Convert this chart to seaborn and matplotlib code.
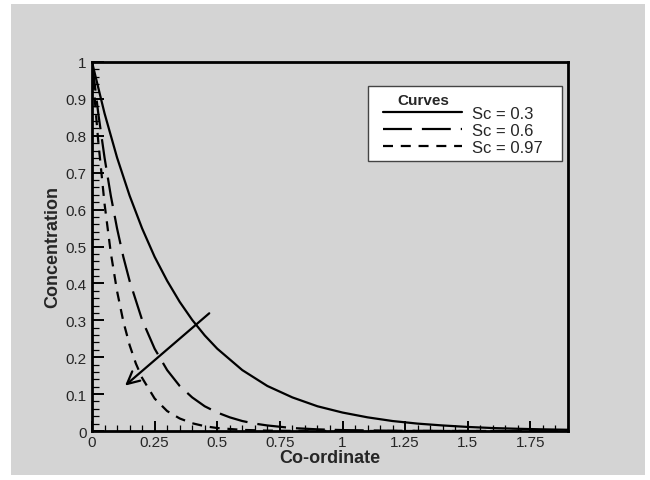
import matplotlib
matplotlib.use("Agg")
import matplotlib.pyplot as plt
import matplotlib.patches as mpatches
from matplotlib.ticker import MultipleLocator
import seaborn as sns
import pandas as pd

# ---- data ----
x_sc03 = [0, 0.05, 0.1, 0.15, 0.2, 0.25, 0.3, 0.35, 0.4, 0.45, 0.5, 0.6, 0.7, 0.8, 0.9,
          1.0, 1.1, 1.2, 1.3, 1.4, 1.5, 1.6, 1.7, 1.8, 1.9]
y_sc03 = [1.0, 0.861, 0.741, 0.638, 0.549, 0.472, 0.407, 0.350, 0.301, 0.259, 0.223, 0.165,
          0.122, 0.091, 0.067, 0.050, 0.037, 0.027, 0.020, 0.015, 0.011, 0.008, 0.006, 0.0045, 0.0033]

x_sc06 = [0, 0.025, 0.05, 0.075, 0.1, 0.125, 0.15, 0.2, 0.25, 0.3, 0.35, 0.4, 0.45, 0.5,
          0.55, 0.6, 0.65, 0.7, 0.8, 0.9, 1.0, 1.2, 1.5, 1.9]
y_sc06 = [1.0, 0.861, 0.741, 0.638, 0.549, 0.472, 0.407, 0.301, 0.223, 0.165, 0.122, 0.091,
          0.067, 0.050, 0.037, 0.027, 0.020, 0.015, 0.008, 0.0045, 0.0025, 0.0007, 0.0001, 0.0]

x_sc097 = [0, 0.0125, 0.025, 0.05, 0.075, 0.1, 0.125, 0.15, 0.175, 0.2, 0.25, 0.3, 0.35,
           0.4, 0.45, 0.5, 0.6, 0.7, 0.8, 1.0, 1.9]
y_sc097 = [1.0, 0.886, 0.785, 0.616, 0.483, 0.379, 0.297, 0.233, 0.183, 0.144, 0.088, 0.054,
           0.034, 0.021, 0.013, 0.008, 0.003, 0.001, 0.0004, 0.0001, 0.0]

series_labels = ["Sc = 0.3", "Sc = 0.6", "Sc = 0.97"]
legend_title = "Curves"

# arrow annotation (data coordinates): tail -> tip
arrow_tail = (0.468, 0.319)
arrow_tip = (0.132, 0.123)

x_ticks = [0, 0.25, 0.5, 0.75, 1, 1.25, 1.5, 1.75]
x_tick_labels = ["0", "0.25", "0.5", "0.75", "1", "1.25", "1.5", "1.75"]
y_ticks = [0, 0.1, 0.2, 0.3, 0.4, 0.5, 0.6, 0.7, 0.8, 0.9, 1.0]
y_tick_labels = ["0", "0.1", "0.2", "0.3", "0.4", "0.5", "0.6", "0.7", "0.8", "0.9", "1"]

df = pd.concat([
    pd.DataFrame({"x": x_sc03, "y": y_sc03, "Sc": series_labels[0]}),
    pd.DataFrame({"x": x_sc06, "y": y_sc06, "Sc": series_labels[1]}),
    pd.DataFrame({"x": x_sc097, "y": y_sc097, "Sc": series_labels[2]}),
], ignore_index=True)

# ---- style ----
sns.set_style("ticks")
plt.rcParams["font.family"] = ["Liberation Sans", "DejaVu Sans"]

W, H = 650, 481
fig = plt.figure(figsize=(W / 100, H / 100), dpi=100, facecolor="white")
bg = "#d4d4d4"


def fx(px):
    return px / W


def fy(py):
    return 1 - py / H


fig.patches.append(mpatches.Rectangle((fx(11), fy(476)), fx(645) - fx(11), fy(5) - fy(476),
                                      transform=fig.transFigure, facecolor=bg,
                                      edgecolor="none", zorder=-10))

ax = fig.add_axes([fx(92), fy(432), fx(568) - fx(92), fy(63) - fy(432)])
ax.set_zorder(5)
ax.set_facecolor(bg)

dashes = {series_labels[0]: "", series_labels[1]: (13, 4.5), series_labels[2]: (4.5, 3.5)}
sns.lineplot(data=df, x="x", y="y", style="Sc", dashes=dashes, color="black",
             linewidth=1.6, estimator=None, sort=False, ax=ax, legend=True)

ax.set_xlim(0, 1.9)
ax.set_ylim(0, 1.0)
ax.set_xticks(x_ticks)
ax.set_xticklabels(x_tick_labels)
ax.set_yticks(y_ticks)
ax.set_yticklabels(y_tick_labels)
ax.xaxis.set_minor_locator(MultipleLocator(0.05))
ax.yaxis.set_minor_locator(MultipleLocator(0.02))
ax.tick_params(axis="both", which="major", direction="in", width=1.4,
               labelsize=11, color="black")
ax.tick_params(axis="both", which="minor", direction="in", width=0.9, color="black")
ax.tick_params(axis="x", which="major", length=7, pad=3)
ax.tick_params(axis="x", which="minor", length=4)
ax.tick_params(axis="y", which="major", length=8.5, pad=4)
ax.tick_params(axis="y", which="minor", length=5)
for s in ax.spines.values():
    s.set_linewidth(2)
    s.set_color("black")

ax.set_xlabel("Co-ordinate", fontsize=13, fontweight="bold", labelpad=0)
ax.set_ylabel("Concentration", fontsize=13, fontweight="bold", labelpad=3)

ax.annotate("", xy=arrow_tip, xytext=arrow_tail,
            arrowprops=dict(arrowstyle="->", lw=1.6, color="black", mutation_scale=22,
                            shrinkA=0, shrinkB=0))

# legend box (white panel with thin border)
ax.add_patch(mpatches.Rectangle((fx(368), fy(162)), fx(562) - fx(368), fy(87) - fy(162),
                                transform=fig.transFigure, facecolor="white",
                                edgecolor="#444444", linewidth=1.0, zorder=4.5,
                                clip_on=False))
handles, labels = ax.get_legend_handles_labels()
leg = ax.legend(handles, labels, loc="upper left",
                bbox_to_anchor=(fx(383), fy(107)), bbox_transform=fig.transFigure,
                frameon=False, fontsize=12, handlelength=4.75, handletextpad=0.6,
                borderpad=0, labelspacing=0.11, borderaxespad=0)
leg.set_zorder(6)
ax.text(fx(423), fy(101), legend_title, transform=fig.transFigure, ha="center",
        va="center", fontsize=11, fontweight="bold", zorder=7)

fig.savefig("out.png", dpi=100, facecolor="white")
